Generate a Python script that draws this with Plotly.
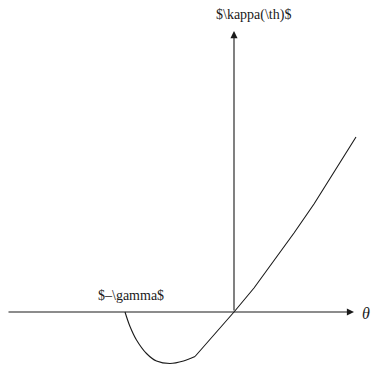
import plotly.graph_objects as go

# Curvature profile kappa(theta): a dip below zero on the left, then rising past the origin
dip_theta = [-2.18, -2.08, -1.95, -1.75, -1.55, -1.28, -1.01, -0.78]
dip_kappa = [0.0, -0.29, -0.56, -0.83, -0.98, -1.03, -0.98, -0.89]

rise_theta = [-0.78, 0.0, 0.4, 0.8, 1.2, 1.6, 2.0, 2.44]
rise_kappa = [-0.89, 0.0, 0.48, 1.02, 1.58, 2.16, 2.8, 3.5]

axis_theta = [-4.54, 2.4]   # horizontal axis extent
axis_kappa = [0.0, 5.62]    # vertical axis extent

x_range = [-4.68, 2.74]
y_range = [-1.06, 6.24]

ink = "#1a1a1a"
serif = "Liberation Serif, Times New Roman, serif"

fig = go.Figure()
fig.add_trace(go.Scatter(x=dip_theta, y=dip_kappa, mode="lines",
                         line=dict(color=ink, width=1.1, shape="spline", smoothing=1.0),
                         hoverinfo="skip", showlegend=False))
fig.add_trace(go.Scatter(x=rise_theta, y=rise_kappa, mode="lines",
                         line=dict(color=ink, width=1.1),
                         hoverinfo="skip", showlegend=False))

# Axes drawn as arrows
fig.add_annotation(x=axis_theta[1], y=0, ax=axis_theta[0], ay=0,
                   xref="x", yref="y", axref="x", ayref="y",
                   showarrow=True, arrowhead=2, arrowsize=1.3, arrowwidth=1.1,
                   arrowcolor=ink, text="")
fig.add_annotation(x=0, y=axis_kappa[1], ax=0, ay=axis_kappa[0],
                   xref="x", yref="y", axref="x", ayref="y",
                   showarrow=True, arrowhead=2, arrowsize=1.3, arrowwidth=1.1,
                   arrowcolor=ink, text="")

# Labels
fig.add_annotation(x=0.38, y=5.94, xref="x", yref="y", text="$\\kappa(\\th)$",
                   showarrow=False, font=dict(family=serif, size=14, color=ink))
fig.add_annotation(x=-2.06, y=0.34, xref="x", yref="y", text="$\u2013\\gamma$",
                   showarrow=False, font=dict(family=serif, size=14, color=ink))
fig.add_annotation(x=2.64, y=-0.02, xref="x", yref="y", text="<i>\u03b8</i>",
                   showarrow=False, font=dict(family=serif, size=16, color=ink))

fig.update_layout(
    width=371, height=365,
    margin=dict(l=0, r=0, t=0, b=0),
    paper_bgcolor="white", plot_bgcolor="white",
    xaxis=dict(range=x_range, visible=False, fixedrange=True),
    yaxis=dict(range=y_range, visible=False, fixedrange=True),
)

fig.write_html("out.html")
